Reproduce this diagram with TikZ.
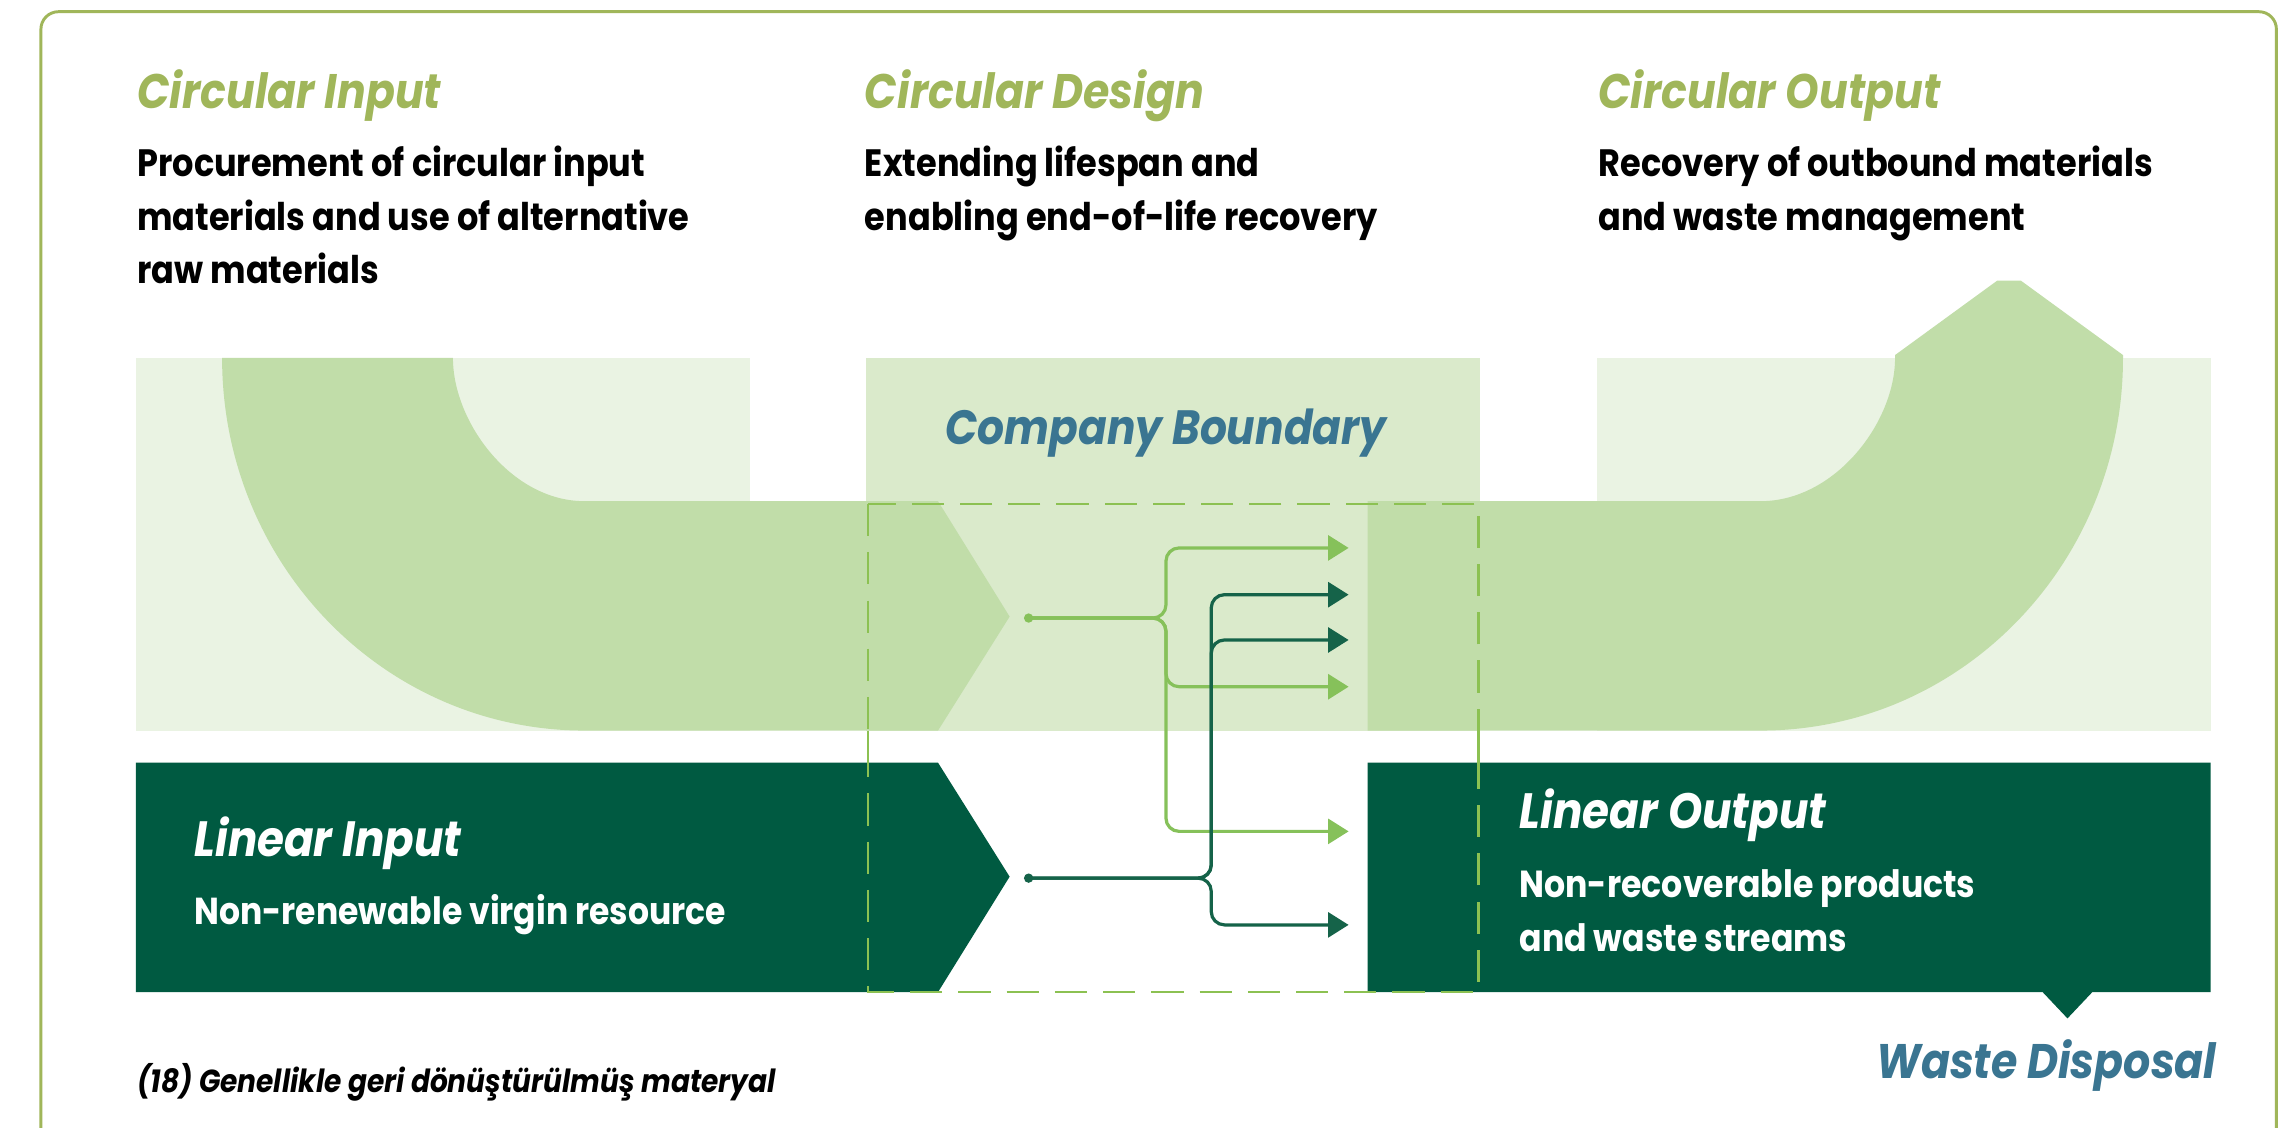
\documentclass[tikz,border=0pt]{standalone}
\usepackage{fontspec}
\setmainfont{Poppins}[FakeStretch=0.88]
\usetikzlibrary{arrows.meta}
\definecolor{cOlive}{HTML}{A0B65A}
\definecolor{cPale}{HTML}{EAF3E3}
\definecolor{cMid}{HTML}{DAEACB}
\definecolor{cBand}{HTML}{C1DDA9}
\definecolor{cDark}{HTML}{005A41}
\definecolor{cDash}{HTML}{8CC152}
\definecolor{cLightArr}{HTML}{86C15A}
\definecolor{cDarkArr}{HTML}{156349}
\definecolor{cTeal}{HTML}{3A7591}
\newlength\fitlen
\newcommand\setfit[4]{\settowidth\fitlen{#2\fontsize{10pt}{12pt}\selectfont #4}\pgfmathsetmacro#1{10*#3/\fitlen}}
\newcommand\fsz[1]{\fontsize{#1 pt}{#1 pt}\selectfont}
\AtBeginDocument{%
\setfit{\fsTitle}{\bfseries\itshape}{232}{Circular Design}%
\setfit{\fsBody}{\bfseries}{378}{materials and use of alternative}%
\setfit{\fsCB}{\bfseries\itshape}{302}{Company Boundary}%
\setfit{\fsLI}{\bfseries\itshape}{183}{Linear Input}%
\setfit{\fsLId}{\bfseries}{364}{Non-renewable virgin resource}%
\setfit{\fsLO}{\bfseries\itshape}{210}{Linear Output}%
\setfit{\fsLOd}{\bfseries}{312}{Non-recoverable products}%
\setfit{\fsWD}{\bfseries\itshape}{233}{Waste Disposal}%
\setfit{\fsFN}{\bfseries\itshape}{437}{(18) Genellikle geri dönüştürülmüş materyal}%
}
\tikzset{
  txt/.style={anchor=base west, inner sep=0pt, outer sep=0pt},
  larr/.style={draw=cLightArr, line width=2.2pt, rounded corners=9pt, -{Triangle[length=14pt,width=17pt]}},
  darr/.style={draw=cDarkArr, line width=2.2pt, rounded corners=9pt, -{Triangle[length=14pt,width=17pt]}},
  boundary/.style={draw=cDash, line width=1.6pt}
}
\begin{document}
\begin{tikzpicture}[x=1pt,y=-1pt]
\useasboundingbox[fill=white] (0,0) rectangle (1568,772);
% outer frame
\draw[cOlive, line width=2pt, rounded corners=12pt] (28,772) -- (28,8) -- (1558,8) -- (1558,772);
% pale columns
\fill[cPale] (93,245) rectangle (513,500);
\fill[cMid] (593,245) rectangle (1013,500);
\fill[cPale] (1093,245) rectangle (1513,500);
% left circular band
\fill[cBand] (152,245) .. controls (152,386) and (263,500) .. (400,500) -- (642,500) -- (691,422) -- (642,343) -- (400,343) .. controls (350,343) and (310,289) .. (310,245) -- cycle;
% right circular band
\fill[cBand] (936,343) -- (1205,343) .. controls (1256,343) and (1297,289) .. (1297,245) -- (1297,243) -- (1367,192) -- (1383,192) -- (1453,243) -- (1453,245) .. controls (1453,386) and (1342,500) .. (1205,500) -- (936,500) -- cycle;
% linear boxes
\fill[cDark] (93,522) -- (642,522) -- (691,600) -- (642,679) -- (93,679) -- cycle;
\fill[cDark] (936,522) -- (1513,522) -- (1513,679) -- (1432,679) -- (1415,697) -- (1398,679) -- (936,679) -- cycle;
% company boundary
\draw[boundary, dash pattern=on 22pt off 11pt] (594,345) rectangle (1012,679);
\draw[boundary] (594,500) -- (594,522);
\draw[boundary] (1012,500) -- (1012,522);
% flows
\coordinate (ls) at (704,423);
\coordinate (l1) at (923,375);
\coordinate (l2) at (923,470);
\coordinate (l3) at (923,569);
\coordinate (ds) at (704,601);
\coordinate (d1) at (923,407);
\coordinate (d2) at (923,438);
\coordinate (d3) at (923,633);
\draw[larr] (ls) -- (798,423) |- (l1);
\draw[larr] (ls) -- (798,423) |- (l2);
\draw[larr] (ls) -- (798,423) |- (l3);
\draw[darr] (ds) -- (829,601) |- (d1);
\draw[darr] (ds) -- (829,601) |- (d2);
\draw[darr] (ds) -- (829,601) |- (d3);
\fill[cLightArr] (ls) circle (3.2pt);
\fill[cDarkArr] (ds) circle (3.2pt);
% titles
\node[txt, text=cOlive, font=\bfseries\itshape\fsz{\fsTitle}] (t1) at (94,74) {Circular Input};
\node[txt, text=cOlive, font=\bfseries\itshape\fsz{\fsTitle}] (t2) at (592,74) {Circular Design};
\node[txt, text=cOlive, font=\bfseries\itshape\fsz{\fsTitle}] (t3) at (1094,74) {Circular Output};
% body texts
\node[txt, font=\bfseries\fsz{\fsBody}] (b11) at (94,121) {Procurement of circular input};
\node[txt, font=\bfseries\fsz{\fsBody}] (b12) at (94,157.5) {materials and use of alternative};
\node[txt, font=\bfseries\fsz{\fsBody}] (b13) at (94,194) {raw materials};
\node[txt, font=\bfseries\fsz{\fsBody}] (b21) at (592,121) {Extending lifespan and};
\node[txt, font=\bfseries\fsz{\fsBody}] (b22) at (592,157.5) {enabling end-of-life recovery};
\node[txt, font=\bfseries\fsz{\fsBody}] (b31) at (1094,121) {Recovery of outbound materials};
\node[txt, font=\bfseries\fsz{\fsBody}] (b32) at (1094,157.5) {and waste management};
% company boundary label
\node[txt, anchor=base, text=cTeal, font=\bfseries\itshape\fsz{\fsCB}] (cb) at (798,304) {Company Boundary};
% linear input
\node[txt, text=white, font=\bfseries\itshape\fsz{\fsLI}] (li) at (133,586) {Linear Input};
\node[txt, text=white, font=\bfseries\fsz{\fsLId}] (lid) at (133,633) {Non-renewable virgin resource};
% linear output
\node[txt, text=white, font=\bfseries\itshape\fsz{\fsLO}] (lo) at (1040,567) {Linear Output};
\node[txt, text=white, font=\bfseries\fsz{\fsLOd}] (lo1) at (1040,614.5) {Non-recoverable products};
\node[txt, text=white, font=\bfseries\fsz{\fsLOd}] (lo2) at (1040,651) {and waste streams};
% waste disposal
\node[txt, anchor=base east, text=cTeal, font=\bfseries\itshape\fsz{\fsWD}] (wd) at (1517,738) {Waste Disposal};
% footnote
\node[txt, font=\bfseries\itshape\fsz{\fsFN}] (fn) at (94,748) {(18) Genellikle geri dönüştürülmüş materyal};
\end{tikzpicture}
\end{document}
